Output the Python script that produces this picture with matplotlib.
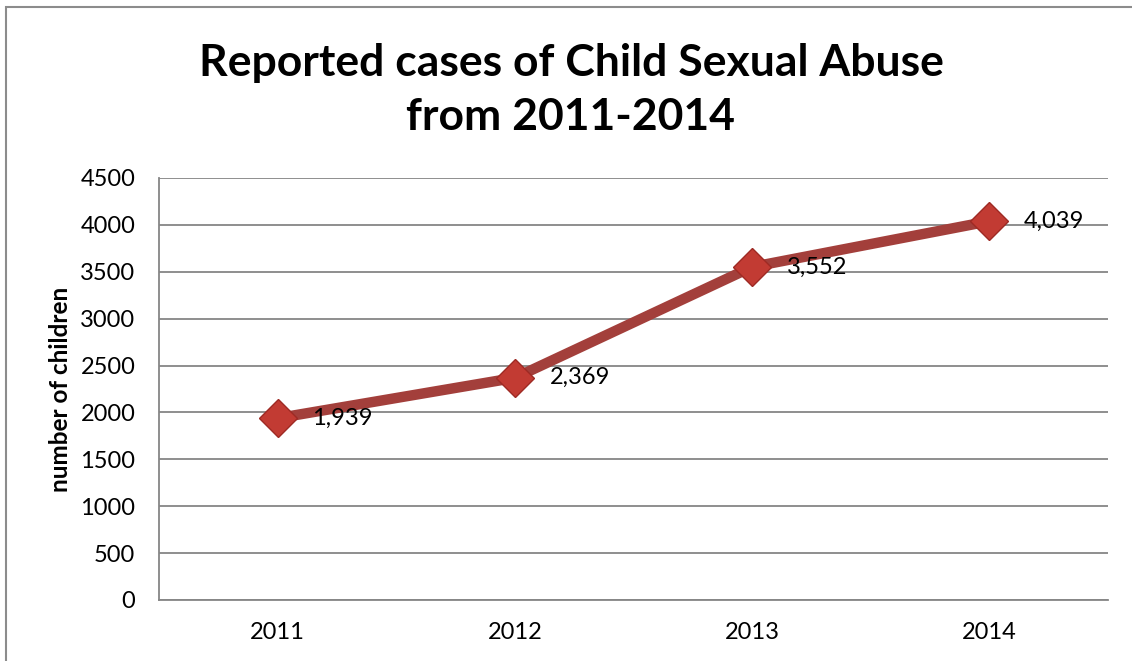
import matplotlib.pyplot as plt
from matplotlib.patches import Rectangle

years = ['2011', '2012', '2013', '2014']
cases = [1939, 2369, 3552, 4039]
labels = ['1,939', '2,369', '3,552', '4,039']
yticks = [0, 500, 1000, 1500, 2000, 2500, 3000, 3500, 4000, 4500]

plt.rcParams['font.family'] = ['Lato', 'DejaVu Sans']

W, H = 1132, 661
fig = plt.figure(figsize=(W / 100, H / 100), dpi=100)
fig.patch.set_facecolor('white')

# outer chart frame (only top and left show in the crop)
fig.add_artist(Rectangle((6 / W, -0.05), 1.2, (H - 7) / H + 0.05,
                         transform=fig.transFigure, fill=False,
                         edgecolor='#8c8c8c', linewidth=1.5))

ax = fig.add_axes([159 / W, (H - 600) / H, (1108 - 159) / W, (600 - 178) / H])
x = list(range(len(years)))

ax.plot(x, cases, color='#A33F3B', linewidth=7.5, solid_capstyle='butt',
        zorder=3)
ax.plot(x, cases, linestyle='none', marker='D', markersize=19,
        markerfacecolor='#C23B33', markeredgecolor='#9E2A24',
        markeredgewidth=1.0, zorder=4)

for xi, v, lab in zip(x, cases, labels):
    ax.annotate(lab, (xi, v), xytext=(25, 0), textcoords='offset points',
                ha='left', va='center', fontsize=17, color='black',
                zorder=5)

ax.set_xlim(-0.5, 3.5)
ax.set_ylim(0, 4500)
ax.set_yticks(yticks)
ax.set_xticks(x)
ax.set_xticklabels(years)
ax.tick_params(axis='both', length=0, labelsize=17)
ax.tick_params(axis='y', pad=17)
ax.tick_params(axis='x', pad=16)
ax.grid(axis='y', color='#868686', linewidth=1.3)
ax.set_axisbelow(True)
for s in ['top', 'right']:
    ax.spines[s].set_visible(False)
for s in ['left', 'bottom']:
    ax.spines[s].set_color('#868686')
    ax.spines[s].set_linewidth(1.3)

ax.set_ylabel('number of children', fontsize=17.5, fontweight='bold',
              labelpad=6)

fig.text(571 / W, 1 - 90 / H, 'Reported cases of Child Sexual Abuse\nfrom 2011-2014',
         ha='center', va='center', fontsize=32, fontweight='bold',
         linespacing=1.4)

fig.savefig('out.png', dpi=100)
